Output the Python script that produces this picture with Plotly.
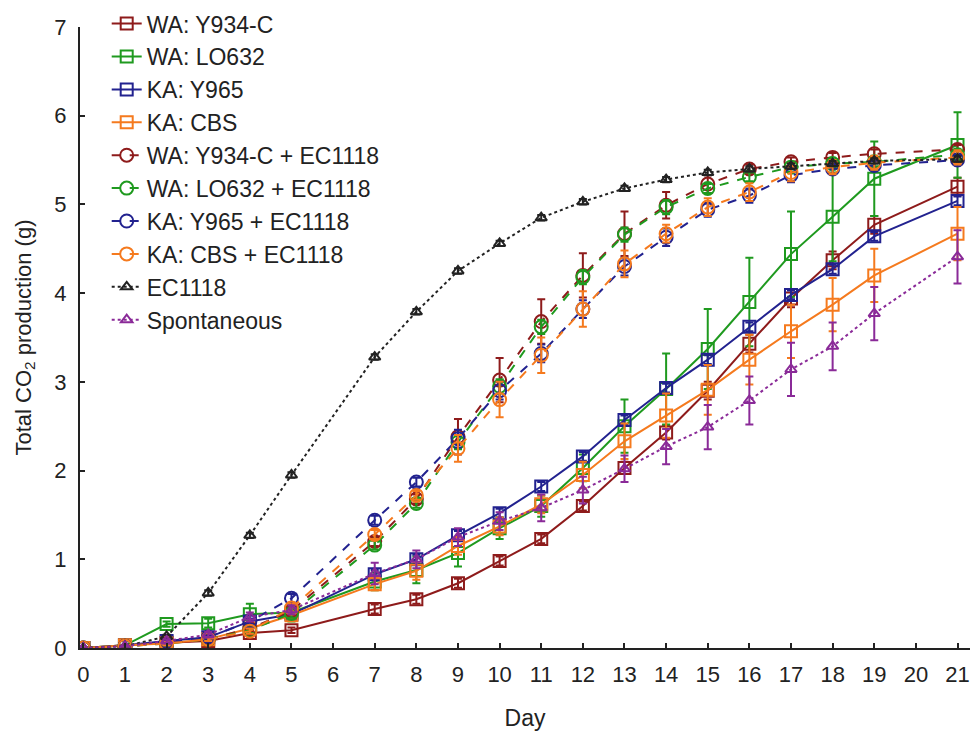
import plotly.graph_objects as go

days = [0, 1, 2, 3, 4, 5, 7, 8, 9, 10, 11, 12, 13, 14, 15, 16, 17, 18, 19, 21]

names = ["WA: Y934-C", "WA: LO632", "KA: Y965", "KA: CBS",
         "WA: Y934-C + EC1118", "WA: LO632 + EC1118", "KA: Y965 + EC1118", "KA: CBS + EC1118",
         "EC1118", "Spontaneous"]

wa_y934 = [0, 0.03, 0.06, 0.08, 0.17, 0.20, 0.44, 0.55, 0.73, 0.98, 1.23, 1.60, 2.03, 2.43, 2.90, 3.43, 3.94, 4.37, 4.77, 5.20]
wa_lo632 = [0, 0.03, 0.27, 0.28, 0.38, 0.40, 0.75, 0.88, 1.07, 1.35, 1.60, 2.03, 2.50, 2.92, 3.37, 3.90, 4.44, 4.86, 5.29, 5.67]
ka_y965 = [0, 0.03, 0.08, 0.12, 0.30, 0.38, 0.83, 1.00, 1.27, 1.52, 1.82, 2.16, 2.57, 2.93, 3.25, 3.62, 3.98, 4.27, 4.64, 5.04]
ka_cbs = [0, 0.03, 0.05, 0.10, 0.22, 0.37, 0.72, 0.87, 1.15, 1.37, 1.62, 1.95, 2.33, 2.62, 2.91, 3.25, 3.57, 3.87, 4.20, 4.67]
wa_y934_ec = [0, 0.02, 0.06, 0.10, 0.22, 0.42, 1.20, 1.68, 2.38, 3.02, 3.68, 4.20, 4.67, 4.99, 5.23, 5.40, 5.48, 5.53, 5.57, 5.62]
wa_lo632_ec = [0, 0.02, 0.05, 0.10, 0.20, 0.39, 1.16, 1.63, 2.32, 2.95, 3.62, 4.18, 4.66, 4.97, 5.18, 5.31, 5.42, 5.46, 5.48, 5.56]
ka_y965_ec = [0, 0.02, 0.06, 0.12, 0.30, 0.56, 1.44, 1.87, 2.36, 2.90, 3.32, 3.82, 4.30, 4.63, 4.94, 5.10, 5.33, 5.40, 5.44, 5.50]
ka_cbs_ec = [0, 0.02, 0.05, 0.10, 0.19, 0.45, 1.28, 1.72, 2.25, 2.80, 3.30, 3.82, 4.33, 4.67, 4.97, 5.14, 5.36, 5.42, 5.47, 5.53]
ec1118 = [0, 0.02, 0.13, 0.62, 1.27, 1.95, 3.28, 3.79, 4.25, 4.56, 4.85, 5.03, 5.18, 5.28, 5.36, 5.40, 5.43, 5.46, 5.49, 5.51]
spont = [0, 0.02, 0.08, 0.15, 0.35, 0.43, 0.84, 1.00, 1.25, 1.43, 1.58, 1.78, 2.02, 2.27, 2.49, 2.79, 3.14, 3.40, 3.77, 4.41]

err_wa_y934 = [0, 0, 0.02, 0.02, 0.03, 0.03, 0.05, 0.05, 0.05, 0.05, 0.05, 0.05, 0.07, 0.08, 0.10, 0.10, 0.10, 0.10, 0.10, 0.10]
err_wa_lo632 = [0, 0, 0.03, 0.05, 0.12, 0.10, 0.10, 0.15, 0.15, 0.12, 0.12, 0.15, 0.30, 0.40, 0.45, 0.50, 0.48, 0.50, 0.42, 0.37]
err_ka_y965 = [0, 0, 0.02, 0.02, 0.03, 0.04, 0.05, 0.05, 0.05, 0.05, 0.05, 0.05, 0.05, 0.05, 0.05, 0.05, 0.05, 0.05, 0.05, 0.05]
err_ka_cbs = [0, 0, 0.02, 0.02, 0.03, 0.05, 0.07, 0.10, 0.10, 0.10, 0.10, 0.15, 0.20, 0.25, 0.28, 0.28, 0.30, 0.30, 0.30, 0.30]
err_wa_y934_ec = [0, 0, 0.02, 0.02, 0.03, 0.05, 0.05, 0.05, 0.20, 0.25, 0.25, 0.25, 0.25, 0.15, 0.10, 0.05, 0.05, 0.05, 0.05, 0.05]
err_wa_lo632_ec = [0, 0, 0.02, 0.02, 0.03, 0.05, 0.05, 0.05, 0.08, 0.08, 0.08, 0.08, 0.08, 0.08, 0.05, 0.05, 0.05, 0.05, 0.05, 0.05]
err_ka_y965_ec = [0, 0, 0.02, 0.02, 0.03, 0.05, 0.05, 0.05, 0.10, 0.10, 0.10, 0.10, 0.10, 0.10, 0.08, 0.08, 0.08, 0.05, 0.05, 0.05]
err_ka_cbs_ec = [0, 0, 0.02, 0.02, 0.03, 0.05, 0.05, 0.05, 0.15, 0.20, 0.20, 0.20, 0.15, 0.10, 0.10, 0.10, 0.10, 0.08, 0.08, 0.08]
err_ec1118 = [0, 0, 0.02, 0.03, 0.03, 0.03, 0.03, 0.03, 0.03, 0.03, 0.03, 0.03, 0.03, 0.03, 0.03, 0.03, 0.03, 0.03, 0.03, 0.03]
err_spont = [0, 0, 0.02, 0.03, 0.05, 0.05, 0.12, 0.10, 0.10, 0.10, 0.15, 0.15, 0.15, 0.20, 0.25, 0.27, 0.30, 0.27, 0.30, 0.30]

values = [wa_y934, wa_lo632, ka_y965, ka_cbs, wa_y934_ec, wa_lo632_ec, ka_y965_ec, ka_cbs_ec, ec1118, spont]
errors = [err_wa_y934, err_wa_lo632, err_ka_y965, err_ka_cbs, err_wa_y934_ec, err_wa_lo632_ec,
          err_ka_y965_ec, err_ka_cbs_ec, err_ec1118, err_spont]

RED, GREEN, BLUE, ORANGE, BLACK, PURPLE = "#8e1b1b", "#1f9a1f", "#22228f", "#f57a1e", "#222222", "#8a2a98"
colors = [RED, GREEN, BLUE, ORANGE, RED, GREEN, BLUE, ORANGE, BLACK, PURPLE]
symbols = ["square-open"] * 4 + ["circle-open"] * 4 + ["triangle-up-open"] * 2
dashes = ["solid"] * 4 + ["dash"] * 4 + ["dot", "dot"]
msizes = [12] * 4 + [13] * 4 + [10, 10]

FONT = "Liberation Sans, Arial, sans-serif"

fig = go.Figure()
for i, name in enumerate(names):
    fig.add_trace(go.Scatter(
        x=days, y=values[i], name=name, mode="lines+markers",
        line=dict(color=colors[i], width=2, dash=dashes[i]),
        marker=dict(symbol=symbols[i], size=msizes[i], color=colors[i], line=dict(width=2, color=colors[i])),
        error_y=dict(type="data", array=errors[i], visible=True, color=colors[i], thickness=2, width=4),
    ))

fig.update_layout(
    width=972, height=731,
    margin=dict(l=80, r=2, t=24, b=83),
    paper_bgcolor="white", plot_bgcolor="white",
    font=dict(family=FONT, size=22, color="#222222"),
    showlegend=True,
    legend=dict(x=0.030, y=1.04, xanchor="left", yanchor="top",
                bgcolor="rgba(0,0,0,0)", font=dict(size=23), tracegroupgap=0, itemwidth=30,
                maxheight=720),
    xaxis=dict(range=[-0.08, 21.3], tickmode="array", tickvals=list(range(0, 22)),
               ticktext=[str(d) for d in range(0, 22)], automargin=False,
               showline=True, linecolor="#222222", linewidth=2, ticks="inside", ticklen=5, tickwidth=1.5,
               tickcolor="#222222", showgrid=False, zeroline=False, ticklabelstandoff=6,
               title=dict(text="Day", standoff=23, font=dict(size=23))),
    yaxis=dict(range=[0, 7], tickmode="array", tickvals=list(range(0, 8)), automargin=False,
               showline=True, linecolor="#222222", linewidth=2, ticks="inside", ticklen=5, tickwidth=1.5,
               tickcolor="#222222", showgrid=False, zeroline=False, ticklabelstandoff=7,
               title=dict(text="Total CO<sub>2</sub> production (g)", standoff=17, font=dict(size=22))),
)

fig.write_html("out.html", config={"displayModeBar": False},
               post_script="document.body.style.margin='0';document.body.style.overflow='hidden';")
